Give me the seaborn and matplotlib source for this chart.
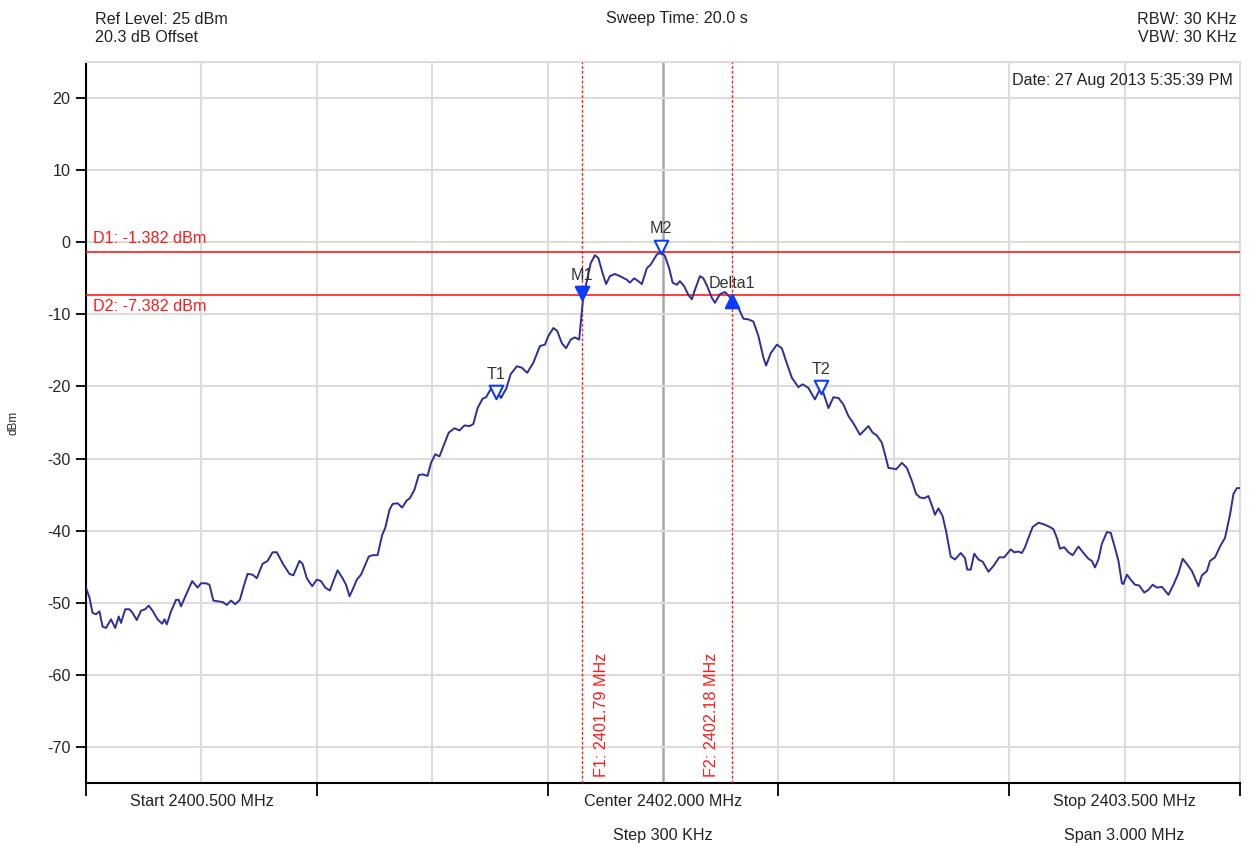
import numpy as np
import pandas as pd
import matplotlib
matplotlib.use("Agg")
import matplotlib.pyplot as plt
import seaborn as sns

# =============================================
# DATA
# =============================================
freq_mhz = [
    2400.500, 2400.509, 2400.517, 2400.526, 2400.535, 2400.543, 2400.552, 2400.565, 2400.576, 2400.585,
    2400.591, 2400.602, 2400.613, 2400.621, 2400.632, 2400.643, 2400.654, 2400.663, 2400.673, 2400.686,
    2400.698, 2400.704, 2400.710, 2400.721, 2400.734, 2400.741, 2400.747, 2400.760, 2400.776, 2400.790,
    2400.799, 2400.812, 2400.821, 2400.831, 2400.842, 2400.855, 2400.866, 2400.877, 2400.888, 2400.900,
    2400.909, 2400.920, 2400.933, 2400.944, 2400.959, 2400.972, 2400.985, 2400.996, 2401.013, 2401.029,
    2401.039, 2401.055, 2401.063, 2401.074, 2401.088, 2401.100, 2401.111, 2401.122, 2401.134, 2401.143,
    2401.154, 2401.167, 2401.176, 2401.185, 2401.193, 2401.204, 2401.215, 2401.235, 2401.245, 2401.258,
    2401.270, 2401.278, 2401.289, 2401.297, 2401.310, 2401.322, 2401.334, 2401.342, 2401.354, 2401.365,
    2401.375, 2401.388, 2401.397, 2401.408, 2401.419, 2401.429, 2401.443, 2401.458, 2401.471, 2401.484,
    2401.497, 2401.507, 2401.518, 2401.531, 2401.540, 2401.553, 2401.566, 2401.579, 2401.588, 2401.592,
    2401.604, 2401.620, 2401.633, 2401.647, 2401.663, 2401.680, 2401.693, 2401.702, 2401.715, 2401.725,
    2401.737, 2401.748, 2401.760, 2401.771, 2401.782, 2401.789, 2401.793, 2401.802, 2401.812, 2401.823,
    2401.832, 2401.843, 2401.852, 2401.862, 2401.875, 2401.888, 2401.906, 2401.914, 2401.925, 2401.936,
    2401.945, 2401.958, 2401.968, 2401.984, 2401.995, 2402.005, 2402.016, 2402.025, 2402.036, 2402.044,
    2402.055, 2402.066, 2402.075, 2402.083, 2402.096, 2402.105, 2402.115, 2402.127, 2402.135, 2402.148,
    2402.161, 2402.172, 2402.185, 2402.196, 2402.209, 2402.222, 2402.235, 2402.248, 2402.261, 2402.268,
    2402.280, 2402.296, 2402.309, 2402.320, 2402.335, 2402.352, 2402.363, 2402.378, 2402.395, 2402.406,
    2402.417, 2402.430, 2402.443, 2402.456, 2402.469, 2402.482, 2402.495, 2402.512, 2402.534, 2402.545,
    2402.556, 2402.569, 2402.577, 2402.586, 2402.599, 2402.606, 2402.621, 2402.634, 2402.647, 2402.658,
    2402.668, 2402.679, 2402.690, 2402.701, 2402.707, 2402.716, 2402.727, 2402.736, 2402.748, 2402.759,
    2402.774, 2402.785, 2402.791, 2402.800, 2402.809, 2402.820, 2402.831, 2402.846, 2402.859, 2402.874,
    2402.887, 2402.904, 2402.913, 2402.924, 2402.933, 2402.941, 2402.950, 2402.961, 2402.976, 2402.989,
    2403.006, 2403.015, 2403.024, 2403.032, 2403.043, 2403.054, 2403.065, 2403.080, 2403.093, 2403.106,
    2403.115, 2403.123, 2403.132, 2403.141, 2403.154, 2403.164, 2403.175, 2403.184, 2403.193, 2403.197,
    2403.206, 2403.216, 2403.227, 2403.238, 2403.251, 2403.262, 2403.273, 2403.284, 2403.297, 2403.314,
    2403.327, 2403.340, 2403.351, 2403.363, 2403.375, 2403.392, 2403.401, 2403.414, 2403.422, 2403.435,
    2403.448, 2403.461, 2403.474, 2403.483, 2403.492, 2403.500,
]
level_dbm = [
    -47.9, -49.3, -51.4, -51.6, -51.2, -53.3, -53.5, -52.3, -53.5, -51.9,
    -52.8, -50.9, -50.9, -51.4, -52.4, -51.1, -50.9, -50.4, -51.1, -52.3,
    -52.9, -52.3, -53.0, -51.2, -49.6, -49.6, -50.5, -48.9, -47.0, -47.9,
    -47.3, -47.3, -47.5, -49.7, -49.8, -49.9, -50.3, -49.7, -50.2, -49.6,
    -47.9, -46.0, -46.1, -46.6, -44.6, -44.2, -43.0, -43.0, -44.7, -46.0,
    -46.2, -44.2, -44.6, -46.6, -47.7, -46.8, -47.0, -47.9, -48.3, -47.0,
    -45.5, -46.6, -47.5, -49.1, -48.2, -46.8, -46.1, -43.6, -43.4, -43.4,
    -40.6, -39.6, -37.1, -36.3, -36.2, -36.8, -35.8, -35.5, -34.3, -32.3,
    -32.2, -32.4, -30.6, -29.4, -29.7, -28.3, -26.4, -25.8, -26.1, -25.4,
    -25.5, -25.2, -23.0, -21.7, -21.5, -20.3, -20.4, -21.6, -20.7, -20.4,
    -18.3, -17.2, -17.4, -18.1, -16.7, -14.4, -14.2, -13.0, -11.9, -12.3,
    -14.0, -14.7, -13.5, -13.2, -13.5, -9.6, -7.4, -5.4, -2.9, -1.8,
    -2.2, -4.3, -5.8, -4.7, -4.4, -4.7, -5.2, -5.6, -5.0, -5.4,
    -5.8, -3.6, -3.1, -1.7, -1.4, -1.9, -3.6, -5.6, -5.9, -5.4,
    -6.1, -7.3, -7.9, -6.6, -4.7, -5.0, -6.1, -7.7, -8.4, -7.2,
    -6.9, -7.5, -8.4, -9.1, -10.6, -10.7, -11.0, -13.0, -16.0, -17.1,
    -15.4, -14.2, -14.7, -16.5, -18.8, -20.1, -19.7, -20.2, -21.8, -20.6,
    -20.9, -23.0, -21.5, -21.6, -22.5, -24.1, -25.1, -26.7, -25.5, -26.4,
    -26.8, -27.8, -29.4, -31.3, -31.4, -31.5, -30.6, -31.3, -33.1, -34.9,
    -35.4, -35.5, -35.2, -36.8, -37.8, -36.9, -38.0, -40.1, -43.6, -44.0,
    -43.1, -43.8, -45.4, -45.4, -43.2, -44.0, -44.3, -45.7, -44.9, -43.7,
    -43.7, -42.6, -43.0, -42.9, -43.1, -42.3, -41.0, -39.5, -38.9, -39.1,
    -39.5, -39.8, -41.0, -42.5, -42.3, -43.0, -43.4, -42.2, -43.1, -43.9,
    -44.2, -45.1, -44.0, -41.8, -40.2, -40.3, -42.4, -44.2, -47.3, -47.4,
    -46.1, -46.8, -47.5, -47.6, -48.6, -48.2, -47.5, -47.9, -47.8, -48.9,
    -47.5, -45.9, -43.9, -44.7, -45.6, -47.7, -46.2, -45.6, -44.2, -43.7,
    -42.2, -41.0, -37.8, -34.9, -34.1, -34.1,
]

# markers: name, frequency, level of the triangle, shape, filled
marker_names = ["M1", "M2", "Delta1", "T1", "T2"]
marker_freq = [2401.79, 2401.995, 2402.18, 2401.565, 2402.41]
marker_level = [-7.1, -0.6, -8.2, -20.8, -20.1]
marker_shape = ["v", "v", "^", "v", "v"]
marker_filled = [True, False, True, False, False]

# display lines
d_names = ["D1", "D2"]
d_levels = [-1.382, -7.382]
f_names = ["F1", "F2"]
f_freqs = [2401.79, 2402.18]

START, STOP, CENTER = 2400.5, 2403.5, 2402.0
REF_LEVEL, BOTTOM = 25, -75
y_ticks = [20, 10, 0, -10, -20, -30, -40, -50, -60, -70]

TRACE = "#2e2e98"
RED = "#ff1a1a"
BLUE = "#0a3cff"
FS = 11.6


def main():
    sns.set_theme(style="white")
    plt.rcParams["font.family"] = ["Liberation Sans", "DejaVu Sans"]

    df = pd.DataFrame({"freq": freq_mhz, "dbm": level_dbm})

    fig = plt.figure(figsize=(12.5, 8.46), dpi=100)
    ax = fig.add_axes([86 / 1250, 1 - 783 / 846, 1154 / 1250, 721 / 846])

    # grid
    grid_x = np.round(np.arange(START, STOP + 0.001, 0.3), 3)
    for gx in grid_x:
        if abs(gx - CENTER) < 1e-6:
            ax.axvline(gx, color="#a8a8a8", lw=1.8, zorder=1)
        else:
            ax.axvline(gx, color="#dcdcdc", lw=1.5, zorder=1)
    for gy in y_ticks + [REF_LEVEL]:
        ax.axhline(gy, color="#dcdcdc", lw=1.5, zorder=1)

    # trace
    sns.lineplot(data=df, x="freq", y="dbm", ax=ax, color=TRACE, lw=1.4,
                 zorder=4, legend=False)

    # display lines
    for name, lev in zip(d_names, d_levels):
        ax.axhline(lev, color=RED, lw=1.2, zorder=3)
    ax.annotate(f"{d_names[0]}: {d_levels[0]:.3f} dBm", (START, d_levels[0]),
                xytext=(5, 10), textcoords="offset points", color=RED,
                fontsize=FS, va="center", ha="left")
    ax.annotate(f"{d_names[1]}: {d_levels[1]:.3f} dBm", (START, d_levels[1]),
                xytext=(5, -8), textcoords="offset points", color=RED,
                fontsize=FS, va="center", ha="left")

    for name, fq, dx in zip(f_names, f_freqs, [14, -15]):
        ax.axvline(fq, color=RED, lw=1.0, ls=(0, (2, 1.5)), zorder=3)
        ax.annotate(f"{name}: {fq:.2f} MHz", (fq, BOTTOM), xytext=(dx, 4),
                    textcoords="offset points", color=RED, fontsize=FS,
                    rotation=90, ha="center", va="bottom")

    # markers
    mdf = pd.DataFrame({"freq": marker_freq, "dbm": marker_level})
    for i, name in enumerate(marker_names):
        face = BLUE if marker_filled[i] else "white"
        sns.scatterplot(x=[marker_freq[i]], y=[marker_level[i]], ax=ax,
                        marker=marker_shape[i], s=95, color=face,
                        edgecolor=BLUE, linewidth=1.5, zorder=6, legend=False)
        ax.annotate(name, (mdf.freq[i], mdf.dbm[i]), xytext=(0, 13),
                    textcoords="offset points", ha="center", va="center",
                    fontsize=FS, color="#333333", zorder=7)

    # axes limits and ticks
    ax.set_xlim(START, STOP)
    ax.set_ylim(BOTTOM, REF_LEVEL)
    ax.set_yticks(y_ticks)
    ax.set_yticklabels([str(v) for v in y_ticks], fontsize=FS)
    ax.set_xticks(np.round(np.arange(START, STOP + 0.001, 0.6), 3))
    ax.set_xticklabels([])
    ax.tick_params(axis="y", direction="out", length=7, width=1.3,
                   color="black", pad=4, left=True)
    ax.tick_params(axis="x", direction="out", length=9, width=1.3,
                   color="black", bottom=True)
    ax.set_xlabel("")
    ax.set_ylabel("dBm", fontsize=8.5, labelpad=20)

    for side in ["left", "bottom"]:
        ax.spines[side].set_color("black")
        ax.spines[side].set_linewidth(1.5)
    for side in ["top", "right"]:
        ax.spines[side].set_color("#dcdcdc")
        ax.spines[side].set_linewidth(1.5)

    # frequency labels under the axis
    lab_kw = dict(transform=ax.get_xaxis_transform(), ha="center", va="center",
                  fontsize=FS, color="#222222")
    ax.text(2400.8, -0.025, f"Start {START:.3f} MHz", **lab_kw)
    ax.text(CENTER, -0.025, f"Center {CENTER:.3f} MHz", **lab_kw)
    ax.text(2403.2, -0.025, f"Stop {STOP:.3f} MHz", **lab_kw)
    ax.text(CENTER, -0.073, "Step 300 KHz", **lab_kw)
    ax.text(2403.2, -0.073, "Span 3.000 MHz", **lab_kw)

    # header
    hdr = dict(fontsize=FS, color="#222222", va="center")
    fig.text(95 / 1250, 1 - 19 / 846, f"Ref Level: {REF_LEVEL} dBm", ha="left", **hdr)
    fig.text(95 / 1250, 1 - 38 / 846, "20.3 dB Offset", ha="left", **hdr)
    fig.text(677 / 1250, 1 - 19 / 846, "Sweep Time: 20.0 s", ha="center", **hdr)
    fig.text(1237 / 1250, 1 - 19 / 846, "RBW: 30 KHz", ha="right", **hdr)
    fig.text(1237 / 1250, 1 - 38 / 846, "VBW: 30 KHz", ha="right", **hdr)
    ax.text(0.9935, 0.985, "Date: 27 Aug 2013 5:35:39 PM", transform=ax.transAxes,
            ha="right", va="top", fontsize=FS, color="#222222")

    fig.savefig("out.png", dpi=100, facecolor="white")
    plt.close(fig)


if __name__ == "__main__":
    main()
